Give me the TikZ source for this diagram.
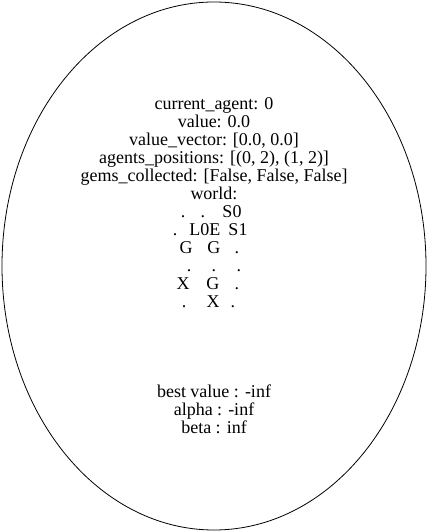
\documentclass[tikz,border=0pt]{standalone}
\usepackage{fontspec}
\setmainfont{Liberation Serif}
\usepackage{tikz}
\usetikzlibrary{shapes.geometric}
% one cell of the world grid, placed by its centre
\newcommand\cellat[2]{\makebox[0pt][l]{\hspace*{#1pt}\makebox[0pt]{#2}}}
\newcommand\worldrow[6]{\makebox[80pt][l]{\cellat{#1}{#2}\cellat{#3}{#4}\cellat{#5}{#6}}}
\tikzset{state/.style={draw, ellipse, line width=0.8pt, inner sep=0pt,
  minimum width=424pt, minimum height=528pt, align=center,
  font=\fontsize{18}{18}\selectfont}}

\begin{document}
\begin{tikzpicture}[x=1pt,y=1pt]
  \useasboundingbox (0,0) rectangle (428,532);
  \node[state] (root) at (214,266) {current\_agent: 0\\
    value: 0.0\\
    value\_vector: [0.0, 0.0]\\
    agents\_positions: [(0, 2), (1, 2)]\\
    gems\_collected: [False, False, False]\\
    world:\\
    \worldrow{9}{.}{29}{.}{58}{S0}\\
    \worldrow{1}{.}{31}{L0E}{64}{S1}\\
    \worldrow{12}{G}{40}{G}{63}{.}\\
    \worldrow{15}{.}{40}{.}{65}{.}\\
    \worldrow{9}{X}{39}{G}{63}{.}\\
    \worldrow{10}{.}{39}{X}{59}{.}\\[72pt]
    best value : -inf\\
    alpha : -inf\\
    beta : inf};
\end{tikzpicture}
\end{document}
